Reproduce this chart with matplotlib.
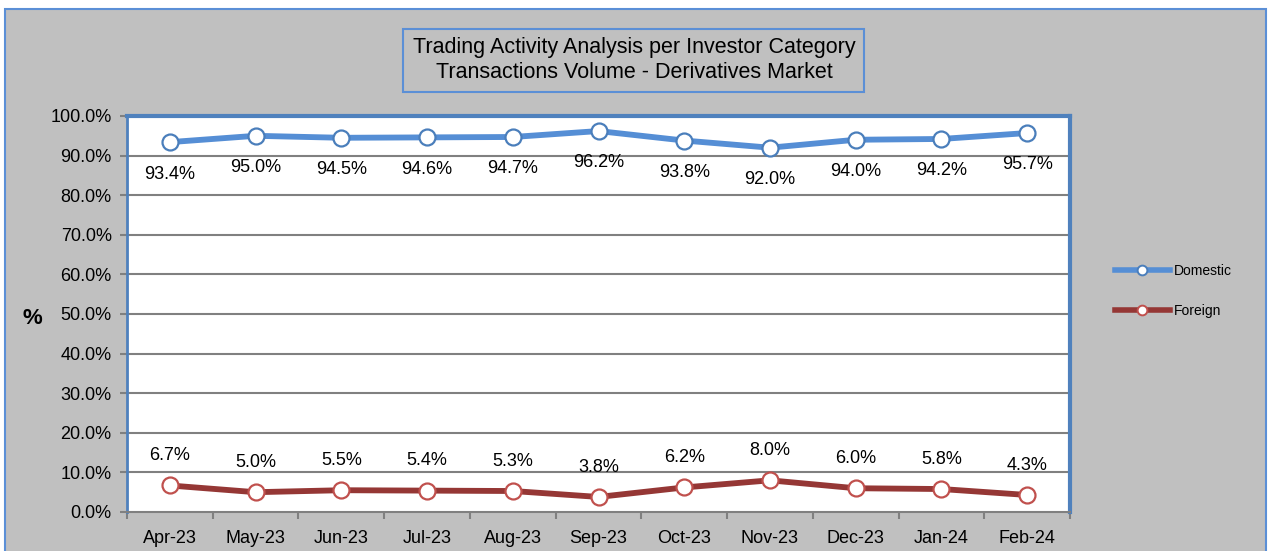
import matplotlib
matplotlib.use("Agg")
import matplotlib.pyplot as plt
from matplotlib.patches import Rectangle
from matplotlib.lines import Line2D

months = ["Apr-23", "May-23", "Jun-23", "Jul-23", "Aug-23", "Sep-23",
          "Oct-23", "Nov-23", "Dec-23", "Jan-24", "Feb-24"]
domestic = [93.4, 95.0, 94.5, 94.6, 94.7, 96.2, 93.8, 92.0, 94.0, 94.2, 95.7]
foreign = [6.7, 5.0, 5.5, 5.4, 5.3, 3.8, 6.2, 8.0, 6.0, 5.8, 4.3]
yticks = [0, 10, 20, 30, 40, 50, 60, 70, 80, 90, 100]

FONT = ["Liberation Sans Narrow", "Liberation Sans", "DejaVu Sans"]
plt.rcParams['font.family'] = FONT

W, H = 1269, 551
fig = plt.figure(figsize=(W / 100, H / 100), dpi=100)
fig.patch.set_facecolor("white")

# gray chart area with blue border
fig.patches.append(Rectangle((5 / W, -0.05), 1261 / W, 1 - 9 / H + 0.05,
                             transform=fig.transFigure, facecolor="#C0C0C0",
                             edgecolor="#5B8FD6", linewidth=1.5, zorder=-10))

# title box
tx0, tx1, ty0, ty1 = 403, 864, 29, 92
fig.patches.append(Rectangle((tx0 / W, 1 - ty1 / H), (tx1 - tx0) / W, (ty1 - ty0) / H,
                             transform=fig.transFigure, facecolor="none",
                             edgecolor="#5B8FD6", linewidth=1.5, zorder=-5))
fig.text(634 / W, 1 - 60 / H,
         "Trading Activity Analysis per Investor Category\nTransactions Volume - Derivatives Market",
         ha="center", va="center", fontsize=15.5, linespacing=1.25, color="black")

left, right, top, bottom = 127, 1070, 116, 512
ax = fig.add_axes([left / W, 1 - bottom / H, (right - left) / W, (bottom - top) / H])
ax.set_zorder(5)
ax.set_facecolor("white")

x = list(range(len(months)))
ax.set_xlim(-0.5, len(months) - 0.5)
ax.set_ylim(0, 100)

for v in yticks[1:-1]:
    ax.axhline(v, color="#808080", linewidth=1.5, zorder=1)

ax.plot(x, domestic, color="#558ED5", linewidth=4.2, marker="o", markersize=11.5,
        markerfacecolor="white", markeredgecolor="#4A7EBB", markeredgewidth=1.6,
        zorder=3, label="Domestic")
ax.plot(x, foreign, color="#953735", linewidth=4.2, marker="o", markersize=11.5,
        markerfacecolor="white", markeredgecolor="#C0504D", markeredgewidth=1.6,
        zorder=3, label="Foreign")

LBL = 13
for xi, v in zip(x, domestic):
    ax.annotate(f"{v:.1f}%", (xi, v), xytext=(0, -23), textcoords="offset points",
                ha="center", va="center", fontsize=LBL, color="black", zorder=4)
for xi, v in zip(x, foreign):
    ax.annotate(f"{v:.1f}%", (xi, v), xytext=(0, 21.5), textcoords="offset points",
                ha="center", va="center", fontsize=LBL, color="black", zorder=4)

ax.set_yticks(yticks)
ax.set_yticklabels([f"{v:.1f}%" for v in yticks], fontsize=LBL)
ax.set_xticks(x)
ax.set_xticklabels(months, fontsize=LBL)
ax.set_xticks([i - 0.5 for i in range(len(months) + 1)], minor=True)
ax.tick_params(axis="x", which="major", length=0, pad=13)
ax.tick_params(axis="x", which="minor", length=5, width=1.5, color="#808080", direction="out")
ax.tick_params(axis="y", which="major", length=5, width=1.5, color="#808080", direction="out", pad=6)

for side in ["top", "right", "left"]:
    ax.spines[side].set_color("#4F81BD")
    ax.spines[side].set_linewidth(3)
ax.spines["bottom"].set_color("#808080")
ax.spines["bottom"].set_linewidth(1.5)
ax.spines["left"].set_linewidth(2)

fig.text(32 / W, 1 - 318 / H, "%", fontsize=16, fontweight="bold",
         ha="center", va="center", color="black")

handles = [Line2D([], [], color="#558ED5", linewidth=4, marker="o", markersize=7,
                  markerfacecolor="white", markeredgecolor="#4A7EBB", markeredgewidth=1.4),
           Line2D([], [], color="#953735", linewidth=4, marker="o", markersize=7,
                  markerfacecolor="white", markeredgecolor="#C0504D", markeredgewidth=1.4)]
leg = fig.legend(handles, ["Domestic", "Foreign"], loc="center left",
                 bbox_to_anchor=(1102 / W, 1 - 291 / H), frameon=False,
                 fontsize=10, handlelength=4, handletextpad=0.3, labelspacing=1.9)

fig.savefig("out.png", dpi=100)
